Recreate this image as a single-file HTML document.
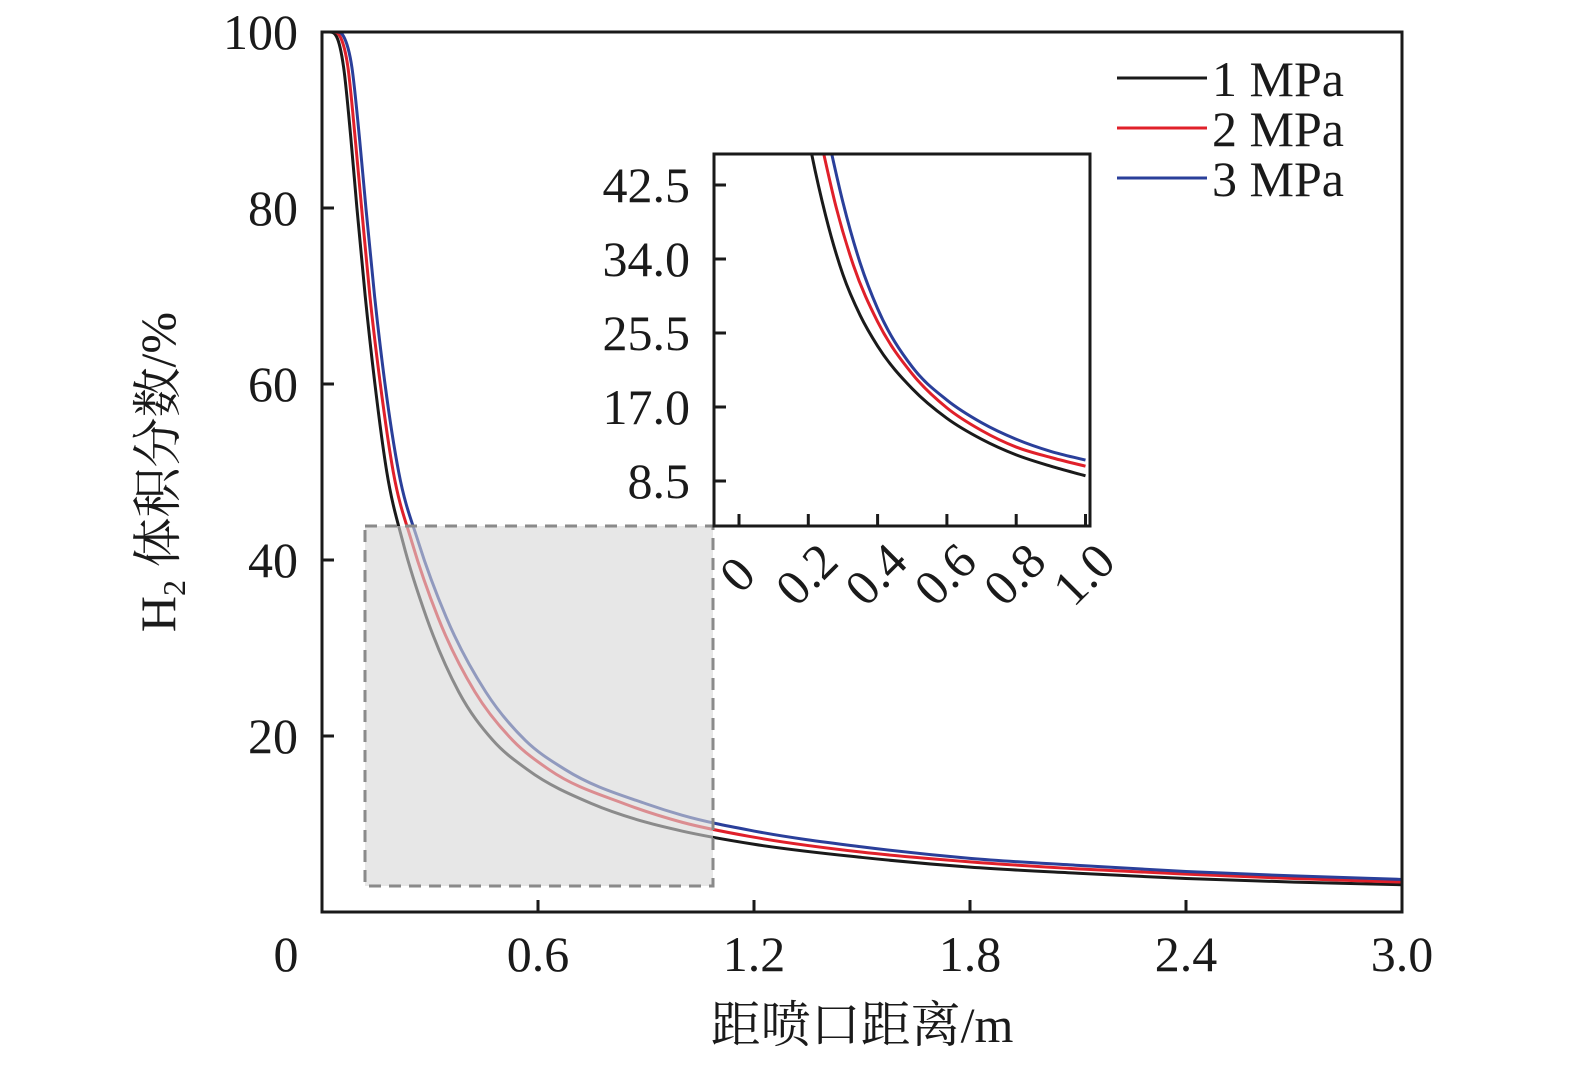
<!DOCTYPE html>
<html><head><meta charset="utf-8"><style>
html,body{margin:0;padding:0;background:#fff}
svg text{font-family:"Liberation Serif","Noto Serif CJK SC",serif;fill:#1a1a1a}
</style></head><body>
<svg id="chart" width="1575" height="1064" viewBox="0 0 1575 1064" xmlns="http://www.w3.org/2000/svg">
<g id="main"></g>
<g id="inset"></g>
<g id="legend"></g>
</svg>
<script>
const seriesNames=["1 MPa","2 MPa","3 MPa"];
const seriesColors=["#1a1a1a","#e0202a","#2a3f9a"];
const blackX=[0,0.02,0.04,0.06,0.08,0.097,0.12,0.147,0.18,0.225,0.29,0.38,0.475,0.57,0.75,0.9,1.0,1.2,1.5,1.8,2.1,2.4,2.7,3.0];
const blackY=[100,100,99.5,96,88,80,70,60,50,42,33.5,25,19.5,16.2,12.3,10.2,9.2,7.7,6.2,5.1,4.4,3.8,3.4,3.1];
const redX=[0,0.03,0.05,0.072,0.092,0.11,0.133,0.162,0.198,0.25,0.322,0.425,0.53,0.63,0.84,1.0,1.2,1.5,1.8,2.1,2.4,2.7,3.0];
const redY=[100,100,99.5,96,88,80,70,60,50,42,33.5,25,19.5,16.2,12.3,10.2,8.5,6.8,5.7,4.9,4.3,3.8,3.4];
const blueX=[0,0.04,0.06,0.083,0.104,0.122,0.146,0.175,0.213,0.268,0.345,0.455,0.565,0.675,0.9,1.0,1.2,1.5,1.8,2.1,2.4,2.7,3.0];
const blueY=[100,100,99.5,96,88,80,70,60,50,42,33.5,25,19.5,16.2,12.3,11.0,9.2,7.4,6.1,5.3,4.6,4.1,3.7];
const insetBlackX=[0.2,0.21,0.25,0.3,0.35,0.4,0.5,0.6,0.7,0.8,0.9,1.0];
const insetBlackY=[48,46,39,32.2,27.5,24,19.1,15.7,13.3,11.5,10.2,9.1];
const insetRedX=[0.234,0.245,0.28,0.33,0.4,0.5,0.6,0.7,0.8,0.9,1.0];
const insetRedY=[48,46,40,33.3,26.8,20.8,16.9,14.3,12.4,11.2,10.2];
const insetBlueX=[0.257,0.268,0.3,0.35,0.4,0.5,0.6,0.7,0.8,0.9,1.0];
const insetBlueY=[48,46,40.5,33.5,28.3,21.6,17.8,15.2,13.3,11.9,10.9];
const xTicks=[0,0.6,1.2,1.8,2.4,3.0];
const xTickLabels=["0","0.6","1.2","1.8","2.4","3.0"];
const yTicks=[20,40,60,80,100];
const yTickLabels=["20","40","60","80","100"];
const insetXTicks=[0,0.2,0.4,0.6,0.8,1.0];
const insetXTickLabels=["0","0.2","0.4","0.6","0.8","1.0"];
const insetYTicks=[8.5,17,25.5,34,42.5];
const insetYTickLabels=["8.5","17.0","25.5","34.0","42.5"];

const NS="http://www.w3.org/2000/svg";
function mk(parent,tag,attrs,text){const e=document.createElementNS(NS,tag);for(const k in attrs)e.setAttribute(k,attrs[k]);if(text!==undefined)e.textContent=text;parent.appendChild(e);return e;}
const X=v=>322+v*360, Y=v=>912-v*8.8;
const IX=v=>739+v*346.5, IY=v=>555-v*74/8.5;
function monotonePath(xs,ys,fx,fy){
  const px=xs.map(fx),py=ys.map(fy),n=px.length;const d=[],m=[];
  for(let i=0;i<n-1;i++)d.push((py[i+1]-py[i])/(px[i+1]-px[i]));
  m[0]=d[0];m[n-1]=d[n-2];
  for(let i=1;i<n-1;i++){if(d[i-1]*d[i]<=0){m[i]=0;}else{const h0=px[i]-px[i-1],h1=px[i+1]-px[i];m[i]=(h1*d[i-1]+h0*d[i])/(h0+h1);}}
  for(let i=0;i<n-1;i++){if(d[i]===0){m[i]=0;m[i+1]=0;continue;}const a=m[i]/d[i],b=m[i+1]/d[i],s=a*a+b*b;if(s>9){const t=3/Math.sqrt(s);m[i]=t*a*d[i];m[i+1]=t*b*d[i];}}
  let p=`M${px[0]},${py[0]}`;
  for(let i=0;i<n-1;i++){const h=(px[i+1]-px[i])/3;p+=`C${px[i]+h},${py[i]+m[i]*h} ${px[i+1]-h},${py[i+1]-m[i+1]*h} ${px[i+1]},${py[i+1]}`;}
  return p;
}
const main=document.getElementById('main');
const mainSeries=[[blackX,blackY],[redX,redY],[blueX,blueY]];
mainSeries.forEach((s,i)=>{
  const p=mk(main,'path',{d:monotonePath(s[0],s[1],X,Y),fill:'none',stroke:seriesColors[i],'stroke-width':3});
  
  
});
const zoomBox=mk(main,'rect',{x:365,y:526,width:348,height:360,fill:'rgba(215,215,215,0.6)',stroke:'#8a8a8a','stroke-width':3,'stroke-dasharray':'12,8'});


const frame=mk(main,'rect',{x:322,y:32,width:1080,height:880,fill:'none',stroke:'#1a1a1a','stroke-width':3});


xTicks.forEach((v,i)=>{
  mk(main,'line',{x1:X(v),x2:X(v),y1:912,y2:900,stroke:'#1a1a1a','stroke-width':3});
  const t=mk(main,'text',{x:X(v)+(i===0?-36:0),y:971,'text-anchor':'middle','font-size':50},xTickLabels[i]);
  
  
});
yTicks.forEach((v,i)=>{
  mk(main,'line',{x1:322,x2:334,y1:Y(v),y2:Y(v),stroke:'#1a1a1a','stroke-width':3});
  const t=mk(main,'text',{x:298,y:Y(v)+17,'text-anchor':'end','font-size':50},yTickLabels[i]);
  
  
});
const xt=mk(main,'text',{x:862,y:1042,'text-anchor':'middle','font-size':50},'距喷口距离/m');


const yt=mk(main,'text',{x:0,y:0,'text-anchor':'middle','font-size':50,transform:'translate(175,472) rotate(-90)'});


mk(yt,'tspan',{},'H');mk(yt,'tspan',{'font-size':32,dy:10},'2');mk(yt,'tspan',{dy:-10},' 体积分数/%');

// inset
const inset=document.getElementById('inset');
mk(inset,'rect',{x:714,y:154,width:376,height:372,fill:'#fff',stroke:'none'});
mk(inset,'clipPath',{id:'ic'});
mk(document.querySelector('#ic'),'rect',{x:714,y:154,width:376,height:372});
const insetSeries=[[insetBlackX,insetBlackY],[insetRedX,insetRedY],[insetBlueX,insetBlueY]];
insetSeries.forEach((s,i)=>{
  const p=mk(inset,'path',{d:monotonePath(s[0],s[1],IX,IY),fill:'none',stroke:seriesColors[i],'stroke-width':3,'clip-path':'url(#ic)'});
  
  
});
const iframe=mk(inset,'rect',{x:714,y:154,width:376,height:372,fill:'none',stroke:'#1a1a1a','stroke-width':3});


insetXTicks.forEach((v,i)=>{
  mk(inset,'line',{x1:IX(v),x2:IX(v),y1:526,y2:514,stroke:'#1a1a1a','stroke-width':3});
  const cx=IX(v)+2,cy=578;
  const t=mk(inset,'text',{x:cx,y:cy,'text-anchor':'middle','dominant-baseline':'middle','font-size':50,transform:`rotate(-45 ${cx} ${cy})`},insetXTickLabels[i]);
  
  
});
insetYTicks.forEach((v,i)=>{
  mk(inset,'line',{x1:714,x2:726,y1:IY(v),y2:IY(v),stroke:'#1a1a1a','stroke-width':3});
  const t=mk(inset,'text',{x:690,y:IY(v)+17,'text-anchor':'end','font-size':50},insetYTickLabels[i]);
  
  
});

// legend
const legend=document.getElementById('legend');
seriesNames.forEach((n,i)=>{
  const y=78+i*50;
  const l=mk(legend,'line',{x1:1117,x2:1207,y1:y,y2:y,stroke:seriesColors[i],'stroke-width':3});
  
  
  const t=mk(legend,'text',{x:1212,y:y+18,'font-size':50},n);
  
  
});
</script>
</body></html>
